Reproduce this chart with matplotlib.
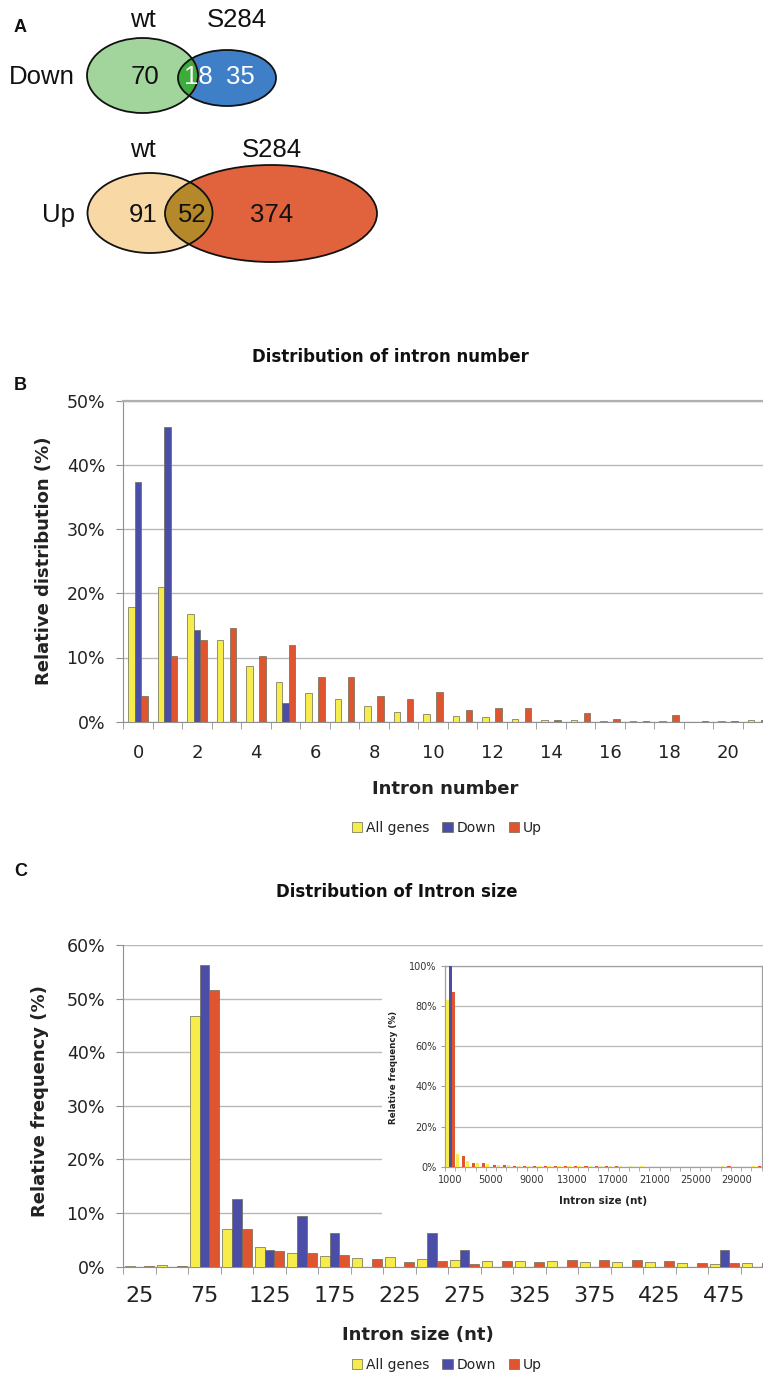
import matplotlib
matplotlib.use("Agg")
import matplotlib.pyplot as plt
from matplotlib.patches import Ellipse, Patch
import numpy as np

# ---------------- data ----------------
venn_down = {"wt": 70, "both": 18, "S284": 35}
venn_up = {"wt": 91, "both": 52, "S284": 374}

series_names = ["All genes", "Down", "Up"]

intron_number = list(range(22))
num_all = [17.9, 21.0, 16.8, 12.7, 8.75, 6.15, 4.43, 3.49, 2.4, 1.5, 1.25, 0.94,
           0.68, 0.42, 0.3, 0.2, 0.1, 0.05, 0.05, 0.03, 0.05, 0.3]
num_down = [37.3, 45.9, 14.3, 0, 0, 2.86, 0, 0, 0, 0, 0, 0,
            0, 0, 0, 0, 0, 0, 0, 0, 0, 0]
num_up = [4.06, 10.3, 12.8, 14.6, 10.3, 11.9, 7.03, 7.03, 4.06, 3.49, 4.58, 1.82,
          2.14, 2.14, 0.2, 1.3, 0.47, 0.05, 1.04, 0.05, 0.16, 0.2]

intron_size = list(range(25, 525, 25))
size_all = [0.1, 0.3, 46.8, 6.97, 3.73, 2.55, 2.0, 1.68, 1.74, 1.5, 1.3, 1.05,
            1.05, 1.0, 0.93, 0.8, 0.8, 0.75, 0.5, 0.62]
size_down = [0, 0, 56.3, 12.6, 3.1, 9.45, 6.2, 0, 0, 6.2, 3.1, 0,
             0, 0, 0, 0, 0, 0, 3.1, 0]
size_up = [0.05, 0.15, 51.6, 6.97, 2.86, 2.55, 2.1, 1.5, 0.87, 1.1, 0.5, 1.05,
           0.93, 1.3, 1.18, 1.24, 1.05, 0.75, 0.75, 0.62]

inset_size = list(range(1000, 32000, 1000))
inset_all = [83, 6.2, 2.8, 1.6, 1.2, 0.8, 0.6, 0.5, 0.4, 0.3, 0.3, 0.25, 0.2, 0.2,
             0.2, 0.2, 0.15, 0.1, 0.1, 0.1, 0.05, 0.05, 0.05, 0.05, 0.05, 0.05,
             0.05, 0.1, 0.05, 0.05, 0.3]
inset_down = [100] + [0] * 30
inset_up = [87, 5.3, 2.0, 1.8, 1.0, 0.7, 0.5, 0.4, 0.3, 0.3, 0.2, 0.2, 0.15, 0.15,
            0.1, 0.1, 0.1, 0.05, 0.05, 0.05, 0.05, 0.05, 0.05, 0.05, 0.05, 0.05,
            0.05, 0.2, 0.05, 0.05, 0.3]

# ---------------- styling ----------------
C_ALL = "#f6ec4c"
C_DOWN = "#4a4ea6"
C_UP = "#de5530"
COLORS = [C_ALL, C_DOWN, C_UP]
EDGE = "#6a6a55"
GRID = "#b8b8b8"
TXT = "#222222"
VERD = "DejaVu Sans"
ARIAL = "Liberation Sans"
VFS = 18.5

W, H = 763, 1381
fig = plt.figure(figsize=(W / 100, H / 100), dpi=100)
fig.patch.set_facecolor("white")


def fx(x):
    return x / W


def fy(y):
    return 1 - y / H


def add_axes_px(x0, y0, x1, y1):
    return fig.add_axes([fx(x0), fy(y1), fx(x1) - fx(x0), (y1 - y0) / H])


# ---------------- Panel A : Venn ----------------
axA = add_axes_px(0, 0, W, 280)
axA.set_xlim(0, W)
axA.set_ylim(280, 0)
axA.axis("off")


def venn(ax, c1, c2, fill1, fill2, fill12, border12=None):
    e1 = Ellipse(c1[:2], c1[2], c1[3], facecolor=fill1, edgecolor="none")
    e2 = Ellipse(c2[:2], c2[2], c2[3], facecolor=fill2, edgecolor="none")
    ax.add_patch(e1)
    ax.add_patch(e2)
    e12 = Ellipse(c2[:2], c2[2], c2[3], facecolor=fill12, edgecolor="none")
    ax.add_patch(e12)
    e12.set_clip_path(e1)
    if border12:
        b = Ellipse(c1[:2], c1[2], c1[3], facecolor="none", edgecolor=border12, lw=1.2)
        ax.add_patch(b)
        b.set_clip_path(e2)
    ax.add_patch(Ellipse(c1[:2], c1[2], c1[3], facecolor="none", edgecolor="#111111", lw=1.3))
    ax.add_patch(Ellipse(c2[:2], c2[2], c2[3], facecolor="none", edgecolor="#111111", lw=1.3))


def vtext(x, y, s, color="#111", ha="center"):
    axA.text(x, y, s, ha=ha, va="center", fontsize=VFS, family=ARIAL, color=color)


venn(axA, (142.5, 75.5, 111, 75), (227, 78, 98, 56), "#a2d59c", "#3f7fc7", "#3cac3a",
     border12="#d8603a")
vtext(145, 77, str(venn_down["wt"]))
vtext(198, 77, str(venn_down["both"]), color="white")
vtext(240, 77, str(venn_down["S284"]), color="white")
vtext(75, 77, "Down", ha="right")
vtext(143, 20, "wt")
vtext(237, 20, "S284")

venn(axA, (150, 213, 125, 80), (271, 213.5, 212, 97), "#f8d9a6", "#e0633d", "#b5882a")
vtext(143, 215, str(venn_up["wt"]))
vtext(192, 215, str(venn_up["both"]))
vtext(272, 215, str(venn_up["S284"]))
vtext(75, 215, "Up", ha="right")
vtext(143, 150, "wt")
vtext(272, 150, "S284")

fig.text(fx(14), fy(27), "A", fontsize=13, fontweight="bold", family=ARIAL, va="center", ha="left", color="#111")


# ---------------- helper for bar panels ----------------
def style_bar_axes(ax, ymax, ystep, ncat_visible, label_every, labels, xfs, yfs, xpad):
    ax.set_ylim(0, ymax)
    ax.set_xlim(0, ncat_visible)
    ax.set_yticks(np.arange(0, ymax + 0.01, ystep))
    ax.yaxis.set_major_formatter(matplotlib.ticker.FuncFormatter(lambda v, p: f"{v:.0f}%"))
    ax.grid(axis="y", color=GRID, lw=1.0)
    ax.set_axisbelow(True)
    ax.spines["right"].set_visible(False)
    ax.spines["top"].set_color("#b0b0b0")
    ax.spines["top"].set_linewidth(1.6)
    ax.spines["left"].set_color("#909090")
    ax.spines["bottom"].set_color("#909090")
    ax.tick_params(axis="y", length=5, color="#909090", labelsize=yfs, labelcolor=TXT, pad=8)
    ax.set_xticks(np.arange(0, int(ncat_visible) + 1), minor=True)
    ax.tick_params(axis="x", which="minor", length=5, color="#909090", direction="out")
    ax.set_xticks([i + 0.5 for i in range(0, len(labels), label_every)])
    ax.set_xticklabels([str(labels[i]) for i in range(0, len(labels), label_every)])
    ax.tick_params(axis="x", which="major", length=0, labelsize=xfs, labelcolor=TXT, pad=xpad)
    for t in ax.get_xticklabels() + ax.get_yticklabels():
        t.set_family(VERD)


def draw_bars(ax, series, width):
    n = len(series[0])
    x = np.arange(n) + 0.5
    for k, (vals, col) in enumerate(zip(series, COLORS)):
        ax.bar(x + (k - 1) * width, vals, width=width, color=col, edgecolor=EDGE,
               linewidth=0.5, zorder=3)


# ---------------- Panel B ----------------
fig.text(fx(14), fy(385), "B", fontsize=13, fontweight="bold", family=ARIAL, va="center", ha="left", color="#111")
fig.text(fx(390), fy(357), "Distribution of intron number", fontsize=12, fontweight="bold",
         family=VERD, ha="center", va="center", color="#111")
axB = add_axes_px(123.3, 400.7, W, 721.7)
draw_bars(axB, [num_all, num_down, num_up], 0.22)
style_bar_axes(axB, 50, 10, (W - 123.3) / 29.5, 2, intron_number, 13, 12.5, 16)
fig.text(fx(44), fy(561), "Relative distribution (%)", rotation=90, fontsize=13, fontweight="bold",
         family=VERD, ha="center", va="center", color=TXT)
fig.text(fx(445), fy(789), "Intron number", fontsize=13, fontweight="bold", family=VERD,
         ha="center", va="center", color=TXT)

handles = [Patch(facecolor=c, edgecolor=EDGE, lw=0.5) for c in COLORS]
fig.legend(handles, series_names, loc="center", bbox_to_anchor=(fx(447), fy(828)), ncol=3,
           frameon=False, prop={"family": VERD, "size": 10}, handlelength=0.75,
           handleheight=0.75, handletextpad=0.3, columnspacing=0.9, labelcolor=TXT)

# ---------------- Panel C ----------------
fig.text(fx(14), fy(872), "C", fontsize=13, fontweight="bold", family=ARIAL, va="center", ha="left", color="#111")
fig.text(fx(397), fy(892), "Distribution of Intron size", fontsize=12, fontweight="bold",
         family=VERD, ha="center", va="center", color="#111")
axC = add_axes_px(123.3, 945, W, 1266.7)
draw_bars(axC, [size_all, size_down, size_up], 0.3)
style_bar_axes(axC, 60, 10, (W - 123.3) / 32.5, 2, intron_size, 16, 12.5, 14)
axC.spines["top"].set_visible(False)
fig.text(fx(40), fy(1101), "Relative frequency (%)", rotation=90, fontsize=13, fontweight="bold",
         family=VERD, ha="center", va="center", color=TXT)
fig.text(fx(418), fy(1335), "Intron size (nt)", fontsize=13, fontweight="bold", family=VERD,
         ha="center", va="center", color=TXT)
fig.legend(handles, series_names, loc="center", bbox_to_anchor=(fx(447), fy(1365)), ncol=3,
           frameon=False, prop={"family": VERD, "size": 10}, handlelength=0.75,
           handleheight=0.75, handletextpad=0.3, columnspacing=0.9, labelcolor=TXT)

# inset white background
axBG = add_axes_px(382, 950, W, 1219)
axBG.set_facecolor("white")
axBG.set_xticks([])
axBG.set_yticks([])
for s in axBG.spines.values():
    s.set_visible(False)

axI = add_axes_px(445, 966, 761.7, 1166.7)
n_in = len(inset_size)
xi = np.arange(n_in) + 0.5
for k, (vals, col) in enumerate(zip([inset_all, inset_down, inset_up], COLORS)):
    axI.bar(xi + (k - 1) * 0.3, vals, width=0.3, color=col, edgecolor="none", zorder=3)
axI.set_xlim(0, n_in)
axI.set_ylim(0, 100)
axI.set_yticks(np.arange(0, 101, 20))
axI.yaxis.set_major_formatter(matplotlib.ticker.FuncFormatter(lambda v, p: f"{v:.0f}%"))
axI.grid(axis="y", color=GRID, lw=0.9)
axI.set_axisbelow(True)
for s in axI.spines.values():
    s.set_color("#a0a0a0")
    s.set_linewidth(0.9)
axI.tick_params(axis="y", length=3, color="#a0a0a0", labelsize=7, labelcolor="#333", pad=3)
axI.set_xticks(np.arange(0, n_in + 1), minor=True)
axI.tick_params(axis="x", which="minor", length=3, color="#a0a0a0")
axI.set_xticks([i + 0.5 for i in range(0, n_in, 4)])
axI.set_xticklabels([str(inset_size[i]) for i in range(0, n_in, 4)])
axI.tick_params(axis="x", which="major", length=0, labelsize=7, labelcolor="#333", pad=6)
for t in axI.get_xticklabels() + axI.get_yticklabels():
    t.set_family(VERD)
fig.text(fx(394), fy(1067), "Relative frequency (%)", rotation=90, fontsize=6.3, fontweight="bold",
         family=VERD, ha="center", va="center", color=TXT)
fig.text(fx(603), fy(1201), "Intron size (nt)", fontsize=7.5, fontweight="bold", family=VERD,
         ha="center", va="center", color=TXT)

fig.savefig("out.png", dpi=100, facecolor="white")
